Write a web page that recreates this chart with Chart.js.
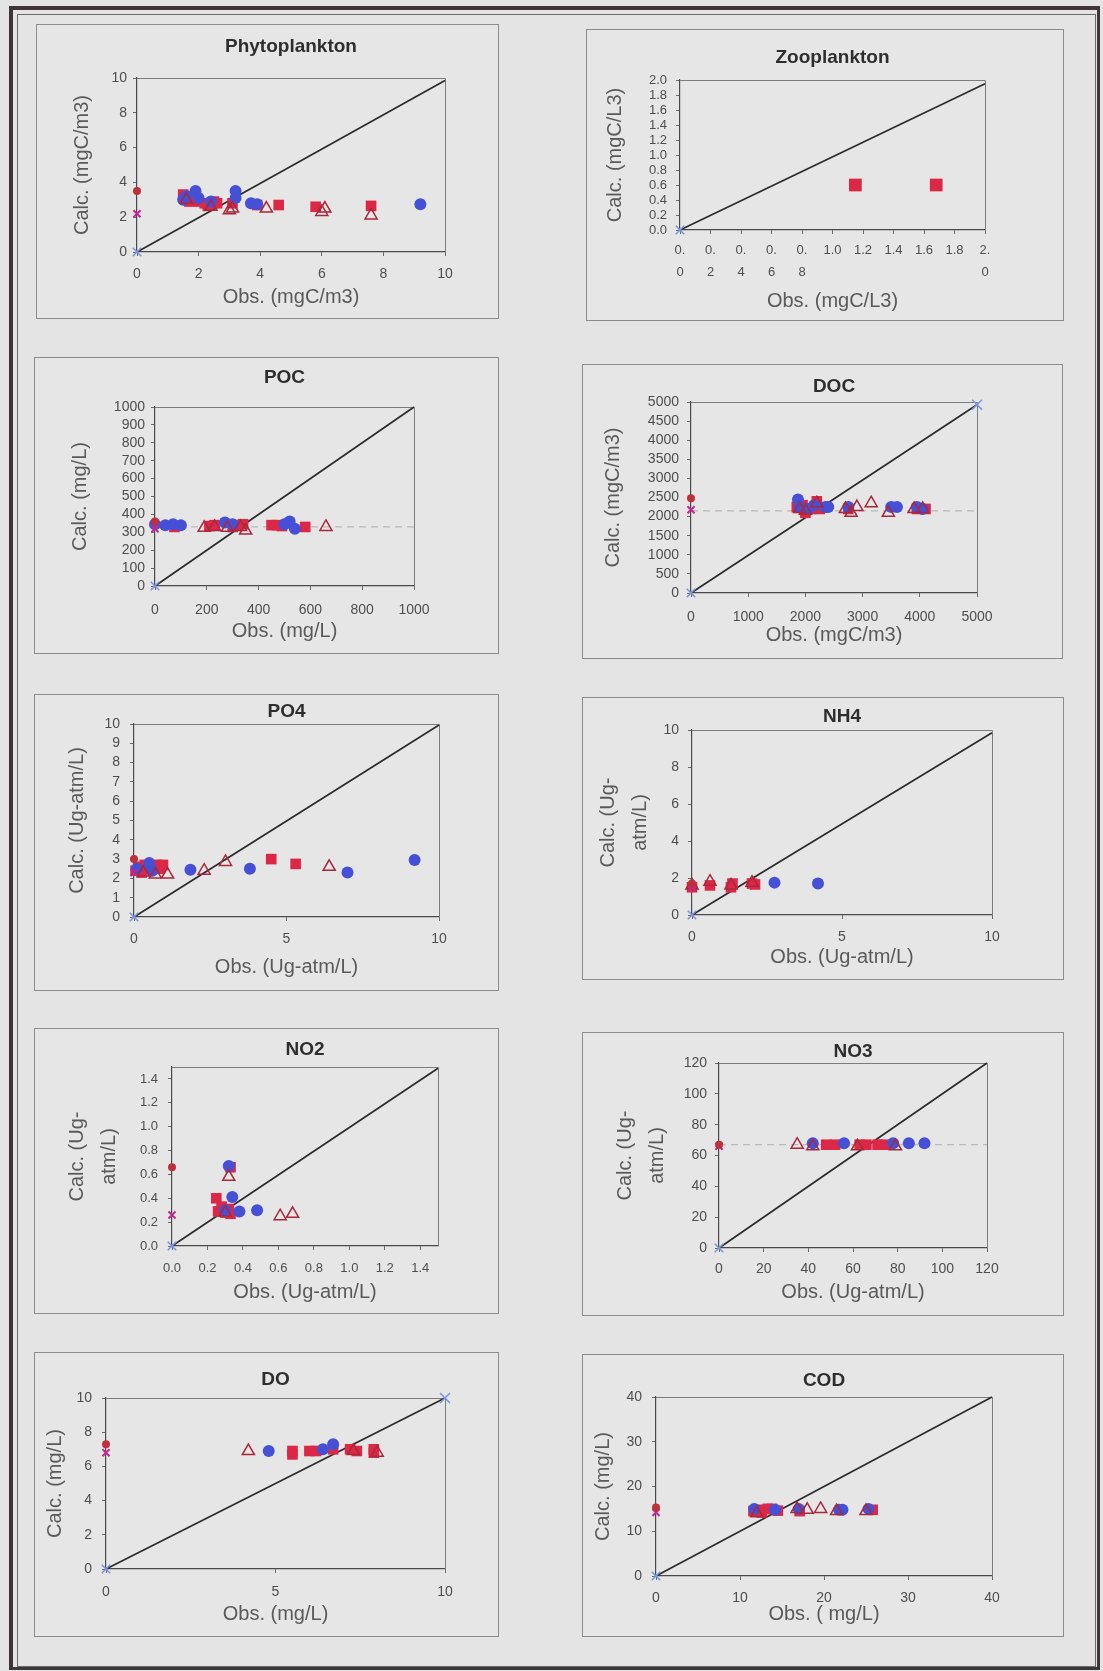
<!DOCTYPE html>
<html><head><meta charset="utf-8">
<script src="https://cdn.jsdelivr.net/npm/chart.js@4.4.0/dist/chart.umd.min.js"></script>
<style>
html,body{margin:0;padding:0;background:#e4e4e4;}
#page{position:relative;width:1103px;height:1671px;overflow:hidden;background:#e4e4e4;}
#frameOuter{position:absolute;left:9px;top:6px;width:1091px;height:1664px;box-sizing:border-box;border:4px solid #3d3539;border-right-width:3px;border-bottom-width:3px;}
#frameInner{position:absolute;left:17px;top:14px;width:1079px;height:1653px;box-sizing:border-box;border:1px solid #6a6a6a;}
.panel{position:absolute;outline:1px solid #8c8c8c;background:#e6e6e6;}
.panel canvas{position:absolute;left:0;top:0;}
</style>
</head><body>
<div id="page"><div id="frameOuter"></div><div id="frameInner"></div></div>
<script>
// ===================== DATA =====================
// Phytoplankton
const phytoCircles   = [[1.5,3.0],[1.6,3.2],[1.9,3.5],[2.0,3.1],[2.4,2.9],[3.2,3.5],[3.2,3.1],[3.7,2.8],[3.9,2.75],[9.2,2.75]];
const phytoSquares   = [[1.5,3.3],[1.6,3.1],[1.7,2.9],[1.8,3.2],[2.0,2.9],[2.2,2.8],[2.3,2.65],[2.5,2.9],[2.6,2.8],[3.1,2.8],[3.9,2.7],[4.6,2.7],[5.8,2.6],[7.6,2.65]];
const phytoTriangles = [[1.6,3.0],[2.4,2.6],[3.0,2.4],[3.1,2.5],[4.2,2.5],[6.0,2.3],[6.1,2.5],[7.6,2.1]];
const phytoZeroDot   = [[0,3.5]];
const phytoZeroCross = [[0,2.2]];
const phytoOneToOne  = [[0,0],[10,9.85]];
const phytoXTicks    = [0,2,4,6,8,10];
const phytoYTicks    = [0,2,4,6,8,10];

// Zooplankton
const zooCircles   = [];
const zooSquares   = [[1.15,0.6],[1.68,0.6]];
const zooTriangles = [];
const zooZeroDot   = [];
const zooZeroCross = [];
const zooOneToOne  = [[0,0],[2,1.95]];
const zooXTicks    = [0,0.2,0.4,0.6,0.8,1.0,1.2,1.4,1.6,1.8,2.0];
const zooXTickLabels = [['0.','0'],['0.','2'],['0.','4'],['0.','6'],['0.','8'],'1.0','1.2','1.4','1.6','1.8',['2.','0']];
const zooYTicks    = [0,0.2,0.4,0.6,0.8,1.0,1.2,1.4,1.6,1.8,2.0];

// POC
const pocCircles   = [[0,345],[40,340],[70,345],[100,340],[270,355],[300,345],[500,345],[520,360],[540,320]];
const pocSquares   = [[75,330],[210,335],[230,340],[300,330],[320,340],[340,345],[450,340],[470,340],[490,335],[580,330]];
const pocTriangles = [[190,325],[230,330],[280,325],[330,330],[350,310],[660,330]];
const pocZeroDot   = [[0,360]];
const pocZeroCross = [[0,320]];
const pocOneToOne  = [[0,0],[1000,1000]];
const pocMeanLine  = [[0,330],[1000,330]];
const pocXTicks    = [0,200,400,600,800,1000];
const pocYTicks    = [0,100,200,300,400,500,600,700,800,900,1000];

// DOC
const docCircles   = [[1870,2450],[1900,2250],[2050,2200],[2150,2300],[2350,2250],[2400,2250],[2750,2250],[3500,2250],[3600,2250],[3950,2250],[4050,2200]];
const docSquares   = [[1850,2250],[1950,2300],[2000,2100],[2100,2200],[2200,2400],[2250,2200],[2750,2200],[3950,2200],[4100,2200]];
const docTriangles = [[1900,2200],[2000,2150],[2200,2350],[2700,2200],[2800,2100],[2900,2250],[3150,2350],[3450,2100],[3900,2200],[4050,2200]];
const docZeroDot   = [[0,2480]];
const docZeroCross = [[0,2180]];
const docOneToOne  = [[0,0],[5000,4930]];
const docMeanLine  = [[0,2150],[5000,2150]];
const docXTicks    = [0,1000,2000,3000,4000,5000];
const docYTicks    = [0,500,1000,1500,2000,2500,3000,3500,4000,4500,5000];

// PO4
const po4Circles   = [[0.1,2.5],[0.5,2.8],[0.6,2.4],[1.85,2.45],[3.8,2.5],[7.0,2.3],[9.2,2.95]];
const po4Squares   = [[0.05,2.4],[0.15,2.6],[0.25,2.3],[0.35,2.7],[0.45,2.5],[0.6,2.6],[0.75,2.7],[0.85,2.5],[0.95,2.7],[4.5,3.0],[5.3,2.75]];
const po4Triangles = [[0.3,2.3],[0.7,2.2],[1.1,2.2],[2.3,2.4],[3.0,2.85],[6.4,2.6]];
const po4ZeroDot   = [[0,3.0]];
const po4ZeroCross = [[0,2.3]];
const po4OneToOne  = [[0,0],[10,9.95]];
const po4XTicks    = [0,5,10];
const po4YTicks    = [0,1,2,3,4,5,6,7,8,9,10];

// NH4
const nh4Circles   = [[2.75,1.75],[4.2,1.7]];
const nh4Squares   = [[0,1.5],[0.6,1.6],[1.3,1.5],[1.35,1.7],[2.0,1.7],[2.1,1.65]];
const nh4Triangles = [[0,1.6],[0.6,1.8],[1.3,1.6],[2.0,1.75]];
const nh4ZeroDot   = [[0,1.7]];
const nh4ZeroCross = [[0,1.5]];
const nh4OneToOne  = [[0,0],[10,9.85]];
const nh4XTicks    = [0,5,10];
const nh4YTicks    = [0,2,4,6,8,10];

// NO2
const no2Circles   = [[0.32,0.67],[0.34,0.41],[0.30,0.30],[0.38,0.29],[0.48,0.30]];
const no2Squares   = [[0.25,0.40],[0.33,0.66],[0.26,0.29],[0.28,0.30],[0.30,0.28],[0.32,0.31],[0.33,0.27],[0.28,0.33]];
const no2Triangles = [[0.32,0.58],[0.30,0.28],[0.61,0.25],[0.68,0.27]];
const no2ZeroDot   = [[0,0.66]];
const no2ZeroCross = [[0,0.26]];
const no2OneToOne  = [[0,0],[1.5,1.49]];
const no2XTicks    = [0,0.2,0.4,0.6,0.8,1.0,1.2,1.4];
const no2YTicks    = [0,0.2,0.4,0.6,0.8,1.0,1.2,1.4];

// NO3
const no3Circles   = [[42,68],[56,68],[78,68],[85,68],[92,68]];
const no3Squares   = [[48,67],[52,67],[63,67],[66,67],[71,67],[74,67]];
const no3Triangles = [[35,67],[42,66],[62,66],[79,66]];
const no3ZeroDot   = [[0,67]];
const no3ZeroCross = [[0,66]];
const no3OneToOne  = [[0,0],[120,120]];
const no3MeanLine  = [[0,67],[125,67]];
const no3XTicks    = [0,20,40,60,80,100,120];
const no3YTicks    = [0,20,40,60,80,100,120];

// DO
const doCircles   = [[4.8,6.9],[6.4,7.0],[6.7,7.3]];
const doSquares   = [[5.5,6.7],[5.5,6.9],[6.0,6.9],[6.2,6.9],[6.7,7.0],[7.2,7.0],[7.4,6.9],[7.9,6.8],[7.9,7.0]];
const doTriangles = [[4.2,6.9],[7.3,6.9],[8.0,6.8]];
const doZeroDot   = [[0,7.3]];
const doZeroCross = [[0,6.8]];
const doOneToOne  = [[0,0],[10,10]];
const doXTicks    = [0,5,10];
const doYTicks    = [0,2,4,6,8,10];

// COD
const codCircles   = [[11.7,15],[14.2,14.8],[17,15],[21.8,14.8],[22.2,14.8],[25.3,15]];
const codSquares   = [[11.6,14.5],[12.2,14.8],[12.6,14.2],[13.3,15],[13.8,15],[14.5,14.6],[17.1,14.5],[25.8,14.8]];
const codTriangles = [[12,14],[16.8,15],[18,14.8],[19.6,15],[21.5,14.5],[25,14.5]];
const codZeroDot   = [[0,15.3]];
const codZeroCross = [[0,14.2]];
const codOneToOne  = [[0,0],[40,40]];
const codXTicks    = [0,10,20,30,40];
const codYTicks    = [0,10,20,30,40];

// ===================== PANEL DEFINITIONS =====================
const panels = [
 {title:'Phytoplankton', yTitle:'Calc. (mgC/m3)', xTitle:'Obs. (mgC/m3)', xMax:10, yMax:10, xDec:0, yDec:0,
  c:phytoCircles, s:phytoSquares, t:phytoTriangles, d:phytoZeroDot, x:phytoZeroCross, one:phytoOneToOne, mean:null,
  xTicks:phytoXTicks, yTicks:phytoYTicks, endMarks:[6,0]},
 {title:'Zooplankton', yTitle:'Calc. (mgC/L3)', xTitle:'Obs. (mgC/L3)', xMax:2, yMax:2, xDec:1, yDec:1,
  c:zooCircles, s:zooSquares, t:zooTriangles, d:zooZeroDot, x:zooZeroCross, one:zooOneToOne, mean:null,
  xTicks:zooXTicks, yTicks:zooYTicks, xLabels:zooXTickLabels, endMarks:[6,0], bigSquares:true},
 {title:'POC', yTitle:'Calc. (mg/L)', xTitle:'Obs. (mg/L)', xMax:1000, yMax:1000, xDec:0, yDec:0,
  c:pocCircles, s:pocSquares, t:pocTriangles, d:pocZeroDot, x:pocZeroCross, one:pocOneToOne, mean:pocMeanLine,
  xTicks:pocXTicks, yTicks:pocYTicks, endMarks:[6,0]},
 {title:'DOC', yTitle:'Calc. (mgC/m3)', xTitle:'Obs. (mgC/m3)', xMax:5000, yMax:5000, xDec:0, yDec:0,
  c:docCircles, s:docSquares, t:docTriangles, d:docZeroDot, x:docZeroCross, one:docOneToOne, mean:docMeanLine,
  xTicks:docXTicks, yTicks:docYTicks, endMarks:[6,7]},
 {title:'PO4', yTitle:'Calc. (Ug-atm/L)', xTitle:'Obs. (Ug-atm/L)', xMax:10, yMax:10, xDec:0, yDec:0,
  c:po4Circles, s:po4Squares, t:po4Triangles, d:po4ZeroDot, x:po4ZeroCross, one:po4OneToOne, mean:null,
  xTicks:po4XTicks, yTicks:po4YTicks, endMarks:[6,0]},
 {title:'NH4', yTitle:['Calc. (Ug-','atm/L)'], xTitle:'Obs. (Ug-atm/L)', xMax:10, yMax:10, xDec:0, yDec:0,
  c:nh4Circles, s:nh4Squares, t:nh4Triangles, d:nh4ZeroDot, x:nh4ZeroCross, one:nh4OneToOne, mean:null,
  xTicks:nh4XTicks, yTicks:nh4YTicks, endMarks:[6,0]},
 {title:'NO2', yTitle:['Calc. (Ug-','atm/L)'], xTitle:'Obs. (Ug-atm/L)', xMax:1.5, yMax:1.5, xDec:1, yDec:1,
  c:no2Circles, s:no2Squares, t:no2Triangles, d:no2ZeroDot, x:no2ZeroCross, one:no2OneToOne, mean:null,
  xTicks:no2XTicks, yTicks:no2YTicks, endMarks:[6,0]},
 {title:'NO3', yTitle:['Calc. (Ug-','atm/L)'], xTitle:'Obs. (Ug-atm/L)', xMax:120, yMax:120, xDec:0, yDec:0,
  c:no3Circles, s:no3Squares, t:no3Triangles, d:no3ZeroDot, x:no3ZeroCross, one:no3OneToOne, mean:no3MeanLine,
  xTicks:no3XTicks, yTicks:no3YTicks, endMarks:[6,0]},
 {title:'DO', yTitle:'Calc. (mg/L)', xTitle:'Obs. (mg/L)', xMax:10, yMax:10, xDec:0, yDec:0,
  c:doCircles, s:doSquares, t:doTriangles, d:doZeroDot, x:doZeroCross, one:doOneToOne, mean:null,
  xTicks:doXTicks, yTicks:doYTicks, endMarks:[6,7]},
 {title:'COD', yTitle:'Calc. (mg/L)', xTitle:'Obs. ( mg/L)', xMax:40, yMax:40, xDec:0, yDec:0,
  c:codCircles, s:codSquares, t:codTriangles, d:codZeroDot, x:codZeroCross, one:codOneToOne, mean:null,
  xTicks:codXTicks, yTicks:codYTicks, endMarks:[6,0]}
];

// ===================== LAYOUT (page pixel geometry) =====================
const geometry = [
 {box:[37,25,498,318],    plot:[137,78,445,252],    titleY:47,   yTitleX:82,  xTitleY:297,  xTickY:274,  yTickR:127},
 {box:[587,30,1063,320],  plot:[680,80,985,230],    titleY:58,   yTitleX:615, xTitleY:301,  xTickY:250,  yTickR:667},
 {box:[35,358,498,653],   plot:[155,407,414,586],   titleY:378,  yTitleX:80,  xTitleY:631,  xTickY:610,  yTickR:145},
 {box:[583,365,1062,658], plot:[691,402,977,593],   titleY:387,  yTitleX:613, xTitleY:635,  xTickY:617,  yTickR:679},
 {box:[35,695,498,990],   plot:[134,724,439,917],   titleY:712,  yTitleX:77,  xTitleY:967,  xTickY:939,  yTickR:120},
 {box:[583,698,1063,979], plot:[692,730,992,915],   titleY:717,  yTitleX:608, xTitleY:957,  xTickY:937,  yTickR:679},
 {box:[35,1029,498,1313], plot:[172,1067,438,1246], titleY:1050, yTitleX:77,  xTitleY:1292, xTickY:1268, yTickR:158},
 {box:[583,1033,1063,1315],plot:[719,1063,987,1248],titleY:1052, yTitleX:625, xTitleY:1292, xTickY:1269, yTickR:707},
 {box:[35,1353,498,1636], plot:[106,1398,445,1569], titleY:1380, yTitleX:55,  xTitleY:1614, xTickY:1592, yTickR:92},
 {box:[583,1355,1063,1636],plot:[656,1397,992,1576],titleY:1381, yTitleX:603, xTitleY:1614, xTickY:1598, yTickR:642}
];

const FONT = "'Liberation Sans', Arial, Helvetica, sans-serif";
Chart.defaults.font.family = FONT;

const COL = {
  circle:'#4650d6', square:'#dc2846', tri:'#a8283c', dot:'#c0303c', cross:'#c02890',
  endX:'#7b96e0', line:'#2b2b2b', mean:'rgba(150,150,150,0.55)',
  tick:'#4e4e4e', axTitle:'#5a5a5a', title:'#2e2e2e'
};

const toPts = a => a.map(p => ({x:p[0], y:p[1]}));
const fmt = (v, d) => Number(v).toFixed(d);

const plotFrame = {
  id:'plotFrame',
  beforeDatasetsDraw(chart){
    const {ctx, chartArea:a} = chart;
    ctx.save();
    ctx.strokeStyle = '#7c7c7c'; ctx.lineWidth = 1;
    ctx.beginPath();
    ctx.moveTo(a.left, a.top + 0.5);
    ctx.lineTo(a.right + 0.5, a.top + 0.5);
    ctx.lineTo(a.right + 0.5, a.bottom);
    ctx.stroke();
    ctx.restore();
  }
};

const page = document.getElementById('page');

panels.forEach((p, i) => {
  const g = geometry[i];
  const [x0,y0,x1,y1] = g.box;
  const [L,T,R,B] = g.plot;
  const w = x1 - x0, h = y1 - y0;

  const div = document.createElement('div');
  div.className = 'panel';
  div.style.left = x0 + 'px'; div.style.top = y0 + 'px';
  div.style.width = w + 'px'; div.style.height = h + 'px';
  const cv = document.createElement('canvas');
  cv.width = w; cv.height = h;
  cv.style.width = w + 'px'; cv.style.height = h + 'px';
  div.appendChild(cv);
  page.appendChild(div);

  const titleSize = 19, titleLH = titleSize * 1.0;
  const tA = (g.titleY - y0) - titleLH / 2;
  const tB = Math.max(0, (T - y0) - tA - titleLH);

  const axSize = 20;
  const multi = Array.isArray(p.yTitle);
  const yLHf = multi ? 1.6 : 1.2;
  const yLH = axSize * yLHf;
  const xLH = axSize * 1.2;

  const tl = 4;
  const tickSize = (p.xDec > 0 || p.yDec > 0) ? 13 : 14;
  const xTickLHf = p.xLabels ? 1.7 : 1.2;
  const xTickPad = (g.xTickY - B) - tl - (tickSize * xTickLHf) / 2;
  const yTickPad = (L - g.yTickR) - tl;

  const sqR = p.bigSquares ? 9 : 7.5;

  const datasets = [
    {label:'Calc. (case 1)', data:toPts(p.t), pointStyle:'triangle', pointRadius:7,
     pointBackgroundColor:'rgba(0,0,0,0)', pointBorderColor:COL.tri, pointBorderWidth:1.5, order:1, clip:false},
    {label:'Calc. (case 2)', data:toPts(p.c), pointStyle:'circle', pointRadius:6,
     pointBackgroundColor:COL.circle, pointBorderColor:COL.circle, pointBorderWidth:0, order:2, clip:false},
    {label:'Calc. (case 3)', data:toPts(p.s), pointStyle:'rect', pointRadius:sqR,
     pointBackgroundColor:COL.square, pointBorderColor:COL.square, pointBorderWidth:0, order:3, clip:false},
    {label:'Initial', data:toPts(p.d), pointStyle:'circle', pointRadius:4,
     pointBackgroundColor:COL.dot, pointBorderColor:COL.dot, pointBorderWidth:0, order:0, clip:false},
    {label:'Boundary', data:toPts(p.x), pointStyle:'crossRot', pointRadius:5,
     pointBorderColor:COL.cross, pointBorderWidth:2, order:0, clip:false},
    {label:'1:1', data:toPts(p.one), showLine:true, borderColor:COL.line, borderWidth:1.7,
     pointStyle:'crossRot', pointRadius:p.endMarks, pointBorderColor:COL.endX, pointBorderWidth:1.6, order:10, clip:false}
  ];
  if (p.mean) {
    datasets.push({label:'mean', data:toPts(p.mean), showLine:true, borderColor:COL.mean,
      borderWidth:1.2, borderDash:[7,5], pointRadius:0, order:12});
  }

  new Chart(cv, {
    type:'scatter',
    data:{datasets},
    plugins:[plotFrame],
    options:{
      responsive:false, animation:false, devicePixelRatio:1,
      layout:{autoPadding:false, padding:{left:0, top:0, bottom:0, right:x1 - R}},
      plugins:{
        legend:{display:false}, tooltip:{enabled:false},
        title:{display:true, text:p.title, fullSize:false, color:COL.title,
          font:{size:titleSize, weight:'bold', lineHeight:1.0, family:FONT},
          padding:{top:tA, bottom:tB}}
      },
      scales:{
        x:{type:'linear', position:'bottom', min:0, max:p.xMax,
          afterBuildTicks: s => { s.ticks = p.xTicks.map(v => ({value:v})); },
          afterFit: s => { s.height = y1 - B; },
          grid:{display:true, drawOnChartArea:false, drawTicks:true, tickLength:tl, color:'#6a6a6a'},
          border:{display:true, color:'#4a4a4a', width:1.2},
          ticks:{autoSkip:false, maxRotation:0, minRotation:0, padding:xTickPad, color:COL.tick,
            font:{size:tickSize, lineHeight:xTickLHf},
            callback:(v, idx) => p.xLabels ? p.xLabels[idx] : fmt(v, p.xDec)},
          title:{display:true, text:p.xTitle, color:COL.axTitle,
            font:{size:axSize, lineHeight:1.2}, padding:{top:0, bottom:(y1 - g.xTitleY) - xLH / 2}}
        },
        y:{type:'linear', position:'left', min:0, max:p.yMax,
          afterBuildTicks: s => { s.ticks = p.yTicks.map(v => ({value:v})); },
          afterFit: s => { s.width = L - x0; },
          grid:{display:true, drawOnChartArea:false, drawTicks:true, tickLength:tl, color:'#6a6a6a'},
          border:{display:true, color:'#4a4a4a', width:1.2},
          ticks:{autoSkip:false, padding:yTickPad, color:COL.tick, font:{size:tickSize},
            callback:v => fmt(v, p.yDec)},
          title:{display:true, text:p.yTitle, color:COL.axTitle,
            font:{size:axSize, lineHeight:yLHf}, padding:{top:(g.yTitleX - x0) - yLH / 2, bottom:0}}
        }
      }
    }
  });
});
</script>
</body></html>
